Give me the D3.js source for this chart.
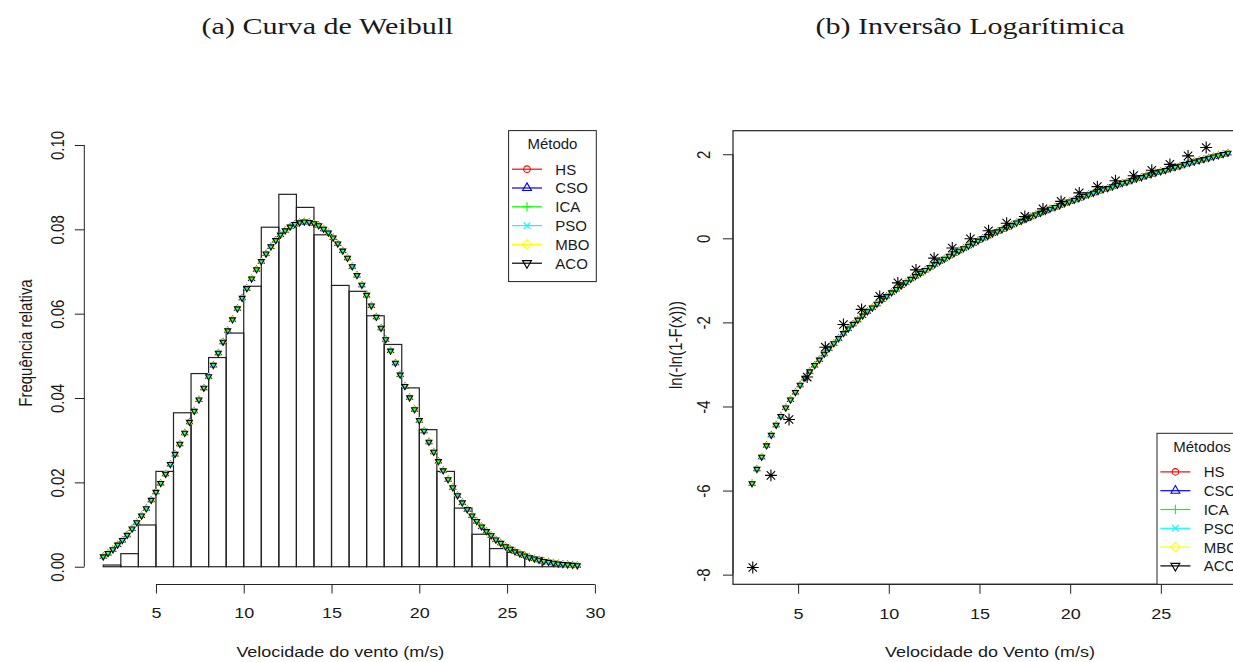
<!DOCTYPE html>
<meta charset="utf-8">
<style>
body { margin: 0; background: #fff; }
svg { display: block; }
text { font-family: "Liberation Sans", Arial, sans-serif; fill: #1a1a1a; }
.title { font-family: "Liberation Serif", "Times New Roman", serif; font-size: 24px; }
</style>
<body>
<script src="https://d3js.org/d3.v7.min.js"></script>
<script>

// ---- data ----
var methods = ["HS", "CSO", "ICA", "PSO", "MBO", "ACO"];
var methodColors = ["#ff0000", "#0000ff", "#00ff00", "#00ffff", "#ffff00", "#000000"];
var methodPch = [1, 2, 3, 4, 5, 6];

// histogram, 1 m/s bins starting at 2
var binStart = [2,3,4,5,6,7,8,9,10,11,12,13,14,15,16,17,18,19,20,21,22,23,24,25,26,27,28];
var binFreq = [0.0004,0.0031,0.0099,0.0226,0.0365,0.0458,0.0496,0.0554,0.0665,0.0805,
               0.0883,0.0852,0.0787,0.0667,0.0653,0.0595,0.0527,0.0424,0.0325,0.0226,
               0.0139,0.0077,0.0043,0.0034,0.0022,0.0008,0.0002];

// fitted density (the six methods overlap at this scale)
var densX = [2.00,2.27,2.55,2.82,3.09,3.36,3.64,3.91,4.18,4.45,4.73,5.00,5.27,5.55,5.82,6.09,6.36,6.64,6.91,7.18,
             7.45,7.73,8.00,8.27,8.55,8.82,9.09,9.36,9.64,9.91,10.18,10.45,10.73,11.00,11.27,11.55,11.82,12.09,12.36,12.64,
             12.91,13.18,13.45,13.73,14.00,14.27,14.55,14.82,15.09,15.36,15.64,15.91,16.18,16.45,16.73,17.00,17.27,17.55,17.82,18.09,
             18.36,18.64,18.91,19.18,19.45,19.73,20.00,20.27,20.55,20.82,21.09,21.36,21.64,21.91,22.18,22.45,22.73,23.00,23.27,23.55,
             23.82,24.09,24.36,24.64,24.91,25.18,25.45,25.73,26.00,26.27,26.55,26.82,27.09,27.36,27.64,27.91,28.18,28.45,28.73,29.00];
var densY = [0.0024,0.0032,0.0041,0.0052,0.0063,0.0075,0.0090,0.0105,0.0121,0.0138,0.0158,0.0177,0.0198,0.0220,0.0243,0.0267,0.0291,0.0317,0.0343,0.0369,
             0.0396,0.0424,0.0451,0.0478,0.0507,0.0533,0.0560,0.0586,0.0612,0.0637,0.0660,0.0683,0.0705,0.0724,0.0742,0.0759,0.0774,0.0787,0.0797,0.0806,
             0.0812,0.0816,0.0818,0.0817,0.0814,0.0809,0.0801,0.0792,0.0780,0.0766,0.0749,0.0732,0.0712,0.0691,0.0668,0.0644,0.0619,0.0592,0.0566,0.0539,
             0.0512,0.0483,0.0455,0.0428,0.0401,0.0373,0.0347,0.0322,0.0296,0.0272,0.0250,0.0228,0.0207,0.0188,0.0169,0.0152,0.0136,0.0121,0.0108,0.0095,
             0.0084,0.0074,0.0064,0.0056,0.0048,0.0042,0.0036,0.0031,0.0026,0.0022,0.0019,0.0016,0.0013,0.0011,0.0009,0.0007,0.0006,0.0005,0.0004,0.0003];

// log inversion, fitted curve
var invX = [2.46,2.73,2.99,3.26,3.52,3.79,4.05,4.32,4.58,4.85,5.11,5.38,5.64,5.91,6.17,6.44,6.70,6.97,7.23,7.50,
            7.76,8.03,8.29,8.56,8.82,9.09,9.35,9.62,9.88,10.15,10.41,10.68,10.94,11.21,11.47,11.74,12.00,12.27,12.53,12.80,
            13.06,13.33,13.59,13.86,14.12,14.39,14.65,14.92,15.18,15.45,15.71,15.98,16.24,16.51,16.77,17.04,17.30,17.57,17.83,18.10,
            18.36,18.63,18.89,19.16,19.42,19.69,19.95,20.22,20.48,20.75,21.01,21.28,21.54,21.81,22.07,22.34,22.60,22.87,23.13,23.40,
            23.66,23.93,24.19,24.46,24.72,24.99,25.25,25.52,25.78,26.05,26.31,26.58,26.84,27.11,27.37,27.64,27.90,28.17,28.43,28.70];
var invY = [-5.83,-5.49,-5.20,-4.93,-4.68,-4.44,-4.23,-4.03,-3.84,-3.66,-3.49,-3.32,-3.17,-3.02,-2.89,-2.75,-2.62,-2.50,-2.38,-2.26,
            -2.15,-2.04,-1.94,-1.84,-1.74,-1.65,-1.56,-1.46,-1.38,-1.29,-1.21,-1.13,-1.05,-0.97,-0.90,-0.83,-0.76,-0.69,-0.62,-0.55,
            -0.49,-0.42,-0.36,-0.30,-0.24,-0.18,-0.12,-0.06,0.00,0.05,0.11,0.16,0.21,0.26,0.31,0.37,0.41,0.46,0.51,0.56,
            0.60,0.65,0.70,0.74,0.78,0.83,0.87,0.91,0.95,1.00,1.04,1.08,1.12,1.16,1.19,1.23,1.27,1.31,1.34,1.38,
            1.42,1.45,1.49,1.52,1.56,1.59,1.62,1.66,1.69,1.72,1.76,1.79,1.82,1.85,1.88,1.91,1.94,1.97,2.00,2.03];

// empirical points (asterisks)
var empX = [2.5,3.5,4.5,5.5,6.5,7.5,8.5,9.5,10.5,11.5,12.5,13.5,14.5,15.5,16.5,17.5,18.5,19.5,20.5,21.5,22.5,23.5,24.5,25.5,26.5,27.5];
var empY = [-7.83,-5.64,-4.31,-3.30,-2.59,-2.05,-1.69,-1.38,-1.06,-0.75,-0.47,-0.23,-0.01,0.18,0.36,0.52,0.70,0.88,1.08,1.23,1.37,1.49,1.62,1.76,1.96,2.16];

var histXTicks = [5, 10, 15, 20, 25, 30];
var histYTicks = [0, 0.02, 0.04, 0.06, 0.08, 0.10];
var invXTicks = [5, 10, 15, 20, 25];
var invYTicks = [-8, -6, -4, -2, 0, 2];

// ---- setup ----
var width = 1233, height = 662;
var ink = "#222";
var sx = 1.2;   // the figure is slightly stretched horizontally

var svg = d3.select("body").append("svg")
    .attr("width", width).attr("height", height);
svg.append("rect").attr("width", width).attr("height", height).attr("fill", "#fff");

// R style plotting symbols
function markerPath(pch, r) {
  var t0 = 1.5551 * r, t1 = 1.3468 * r, t2 = 0.7776 * r, s = Math.SQRT2 * r;
  switch (pch) {
    case 1: return "M" + r + ",0A" + r + "," + r + " 0 1,1 " + (-r) + ",0A" + r + "," + r + " 0 1,1 " + r + ",0Z";
    case 2: return "M0," + (-t0) + "L" + t1 + "," + t2 + "L" + (-t1) + "," + t2 + "Z";
    case 3: return "M" + (-s) + ",0H" + s + "M0," + (-s) + "V" + s;
    case 4: return "M" + (-r) + "," + (-r) + "L" + r + "," + r + "M" + (-r) + "," + r + "L" + r + "," + (-r);
    case 5: return "M0," + (-s) + "L" + s + ",0L0," + s + "L" + (-s) + ",0Z";
    case 6: return "M0," + t0 + "L" + t1 + "," + (-t2) + "L" + (-t1) + "," + (-t2) + "Z";
    case 8: return "M" + (-s) + ",0H" + s + "M0," + (-s) + "V" + s +
                   "M" + (-r) + "," + (-r) + "L" + r + "," + r + "M" + (-r) + "," + r + "L" + r + "," + (-r);
  }
}

function drawLegend(g, left, top, w, title) {
  var h = 151;
  g.append("rect").attr("x", left).attr("y", top).attr("width", w).attr("height", h)
    .attr("fill", "#fff").attr("stroke", ink).attr("stroke-width", 1);
  g.append("text").attr("x", left + w / 2).attr("y", top + 18.6)
    .attr("text-anchor", "middle").attr("font-size", 15).text(title);
  methods.forEach(function(m, i) {
    var cy = top + 38.6 + i * 18.8;
    g.append("line").attr("x1", left + 3.4).attr("x2", left + 33.4)
      .attr("y1", cy).attr("y2", cy)
      .attr("stroke", methodColors[i]).attr("stroke-width", 1.2);
    g.append("path").attr("d", markerPath(methodPch[i], 3.3))
      .attr("transform", "translate(" + (left + 18.4) + "," + cy + ")")
      .attr("fill", "none").attr("stroke", methodColors[i]).attr("stroke-width", 1.1);
    g.append("text").attr("x", left + 46.7).attr("y", cy + 5.4)
      .attr("font-size", 15).text(m);
  });
}

function rotatedTickLabels(axisG, offset) {
  axisG.selectAll(".tick text")
    .attr("x", null).attr("dy", null)
    .attr("text-anchor", "middle")
    .attr("transform", "translate(" + (-offset) + ",0) scale(" + sx + ",1) rotate(-90)");
}

function stretchBottomLabels(axisG) {
  axisG.selectAll(".tick text").attr("transform", "scale(" + sx + ",1)");
}

// ---- titles ----
var titleA = svg.append("text").attr("class", "title").attr("text-anchor", "middle")
    .text("(a) Curva de Weibull");
var titleB = svg.append("text").attr("class", "title").attr("text-anchor", "middle")
    .text("(b) Inversão Logarítimica");
var tScale = 252 / titleA.node().getComputedTextLength();
titleA.attr("transform", "translate(327.5,34) scale(" + tScale + ",1)");
titleB.attr("transform", "translate(970,34) scale(" + tScale + ",1)");

// ================= (a) histogram + densities =================
var hx = d3.scaleLinear().domain([0.92, 30.08]).range([84.3, 596.3]);
var hy = d3.scaleLinear().domain([-0.004, 0.104]).range([583.6, 128.1]);

var histG = svg.append("g");
histG.selectAll("rect")
  .data(binStart)
  .enter()
  .append("rect")
  .attr("x", function(d) { return hx(d); })
  .attr("width", function(d) { return hx(d + 1) - hx(d); })
  .attr("y", function(d, i) { return hy(binFreq[i]); })
  .attr("height", function(d, i) { return hy(0) - hy(binFreq[i]); })
  .attr("fill", "none")
  .attr("stroke", ink)
  .attr("stroke-width", 1.2);

methods.forEach(function(m, k) {
  svg.append("g").selectAll("path")
    .data(densX)
    .enter()
    .append("path")
    .attr("d", markerPath(methodPch[k], 2.2))
    .attr("transform", function(d, i) { return "translate(" + hx(d) + "," + hy(densY[i]) + ")"; })
    .attr("fill", "none")
    .attr("stroke", methodColors[k])
    .attr("stroke-width", 1.1);
});

var hxAxis = svg.append("g")
  .attr("transform", "translate(0," + 584.5 + ")")
  .call(d3.axisBottom(hx).tickValues(histXTicks).tickFormat(function(d) { return d; })
        .tickSize(9).tickSizeOuter(0).tickPadding(14));
hxAxis.select(".domain").attr("d", "M" + hx(5) + ",0H" + hx(30));
hxAxis.attr("font-size", 15).attr("color", ink);
stretchBottomLabels(hxAxis);

var hyAxis = svg.append("g")
  .attr("transform", "translate(" + hx.range()[0] + ",0)")
  .call(d3.axisLeft(hy).tickValues(histYTicks).tickFormat(d3.format(".2f"))
        .tickSize(9.5).tickSizeOuter(0));
hyAxis.select(".domain").attr("d", "M0," + hy(0) + "V" + hy(0.10));
hyAxis.attr("font-size", 15).attr("color", ink);
rotatedTickLabels(hyAxis, 20.5);

svg.append("text")
  .attr("text-anchor", "middle").attr("font-size", 15)
  .attr("transform", "translate(" + ((hx.range()[0] + hx.range()[1]) / 2) + ",657) scale(" + sx + ",1)")
  .text("Velocidade do vento (m/s)");
svg.append("text")
  .attr("text-anchor", "middle").attr("font-size", 15)
  .attr("transform", "translate(31.5,343) scale(" + sx + ",1) rotate(-90)")
  .text("Frequência relativa");

drawLegend(svg.append("g"), hx.range()[1] - 87.7, 130.6, 87.7, "Método");

// ================= (b) log inversion =================
var ix = d3.scaleLinear().domain([1.41, 29.75]).range([733, 1247]);
var iy = d3.scaleLinear().domain([-8.23, 2.56]).range([584.3, 130.7]);

svg.append("rect")
  .attr("x", ix.range()[0]).attr("y", iy.range()[1])
  .attr("width", ix.range()[1] - ix.range()[0])
  .attr("height", iy.range()[0] - iy.range()[1])
  .attr("fill", "none").attr("stroke", ink).attr("stroke-width", 1.2);

methods.forEach(function(m, k) {
  svg.append("g").selectAll("path")
    .data(invX)
    .enter()
    .append("path")
    .attr("d", markerPath(methodPch[k], 2.2))
    .attr("transform", function(d, i) { return "translate(" + ix(d) + "," + iy(invY[i]) + ")"; })
    .attr("fill", "none")
    .attr("stroke", methodColors[k])
    .attr("stroke-width", 1.1);
});

svg.append("g").selectAll("path")
  .data(empX)
  .enter()
  .append("path")
  .attr("d", markerPath(8, 4.2))
  .attr("transform", function(d, i) { return "translate(" + ix(d) + "," + iy(empY[i]) + ")"; })
  .attr("fill", "none")
  .attr("stroke", "#000")
  .attr("stroke-width", 1.1);

var ixAxis = svg.append("g")
  .attr("transform", "translate(0," + iy.range()[0] + ")")
  .call(d3.axisBottom(ix).tickValues(invXTicks).tickFormat(function(d) { return d; })
        .tickSize(9.5).tickSizeOuter(0).tickPadding(14.5));
ixAxis.select(".domain").attr("d", "M" + ix(5) + ",0H" + ix(25));
ixAxis.attr("font-size", 15).attr("color", ink);
stretchBottomLabels(ixAxis);

var iyAxis = svg.append("g")
  .attr("transform", "translate(" + ix.range()[0] + ",0)")
  .call(d3.axisLeft(iy).tickValues(invYTicks).tickFormat(function(d) { return String(d); })
        .tickSize(10).tickSizeOuter(0));
iyAxis.select(".domain").attr("d", "M0," + iy(-8) + "V" + iy(2));
iyAxis.attr("font-size", 15).attr("color", ink);
rotatedTickLabels(iyAxis, 22.6);

svg.append("text")
  .attr("text-anchor", "middle").attr("font-size", 15)
  .attr("transform", "translate(" + ((ix.range()[0] + ix.range()[1]) / 2) + ",657) scale(" + sx + ",1)")
  .text("Velocidade do Vento (m/s)");
svg.append("text")
  .attr("text-anchor", "middle").attr("font-size", 15)
  .attr("transform", "translate(682,345) scale(" + sx + ",1) rotate(-90)")
  .text("ln(-ln(1-F(x)))");

drawLegend(svg.append("g"), 1157, iy.range()[0] - 151, 90, "Métodos");

</script>
